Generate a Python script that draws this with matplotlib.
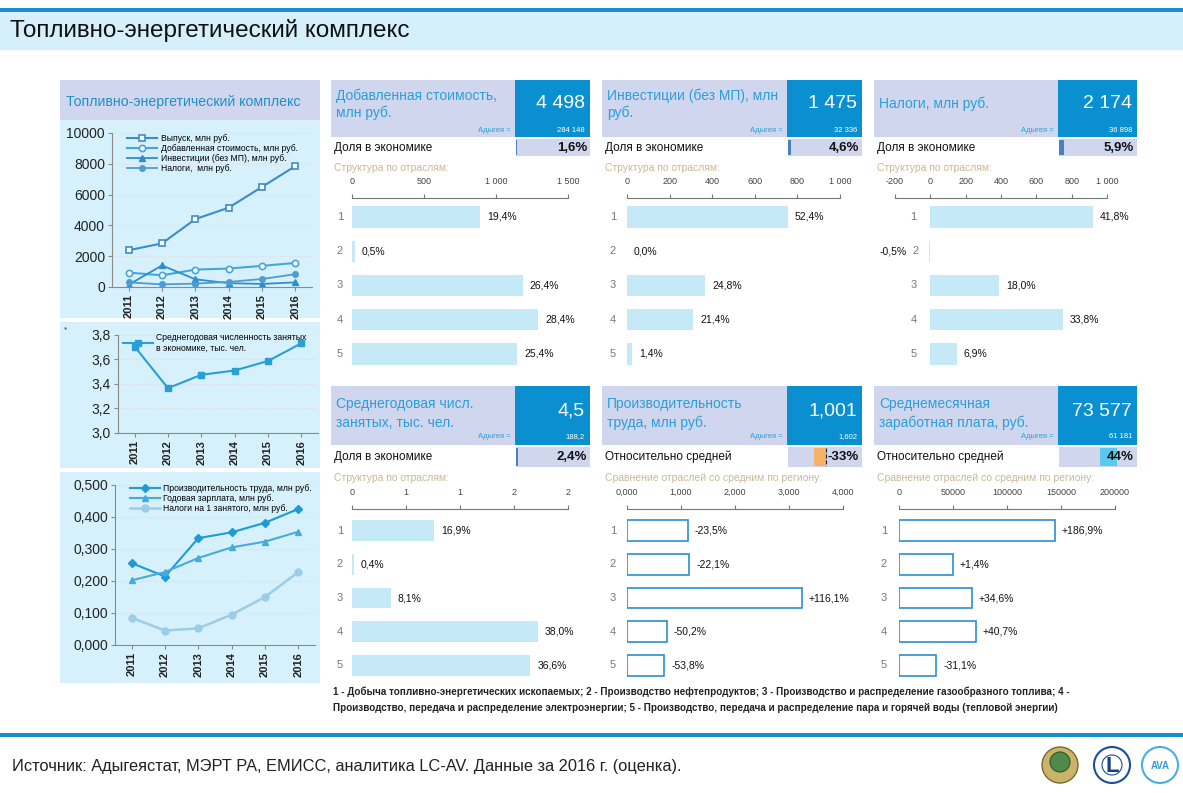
import matplotlib
matplotlib.use('Agg')
import matplotlib.pyplot as plt
from matplotlib.patches import Rectangle, Circle
from matplotlib.transforms import offset_copy

plt.rcParams['font.family'] = ['Liberation Sans', 'DejaVu Sans']

# ---------------- data ----------------
years = ['2011', '2012', '2013', '2014', '2015', '2016']
output_vals = [2390, 2830, 4410, 5150, 6500, 7850]
added_vals = [935, 760, 1130, 1200, 1370, 1565]
invest_vals = [150, 1400, 500, 250, 200, 300]
taxes_vals = [300, 170, 220, 330, 520, 830]
employment_vals = [3.705, 3.366, 3.475, 3.51, 3.588, 3.732]
productivity_vals = [0.256, 0.214, 0.334, 0.352, 0.382, 0.425]
wage_vals = [0.202, 0.228, 0.272, 0.305, 0.323, 0.354]
tax_per_emp_vals = [0.085, 0.045, 0.052, 0.095, 0.150, 0.228]

categories = ['1', '2', '3', '4', '5']
va_by_sector = [889, 21, 1187, 1292, 1146]
va_labels = ['19,4%', '0,5%', '26,4%', '28,4%', '25,4%']
inv_by_sector = [756, 0, 366, 310, 23]
inv_labels = ['52,4%', '0,0%', '24,8%', '21,4%', '1,4%']
tax_by_sector = [920, -10, 389, 749, 149]
tax_labels = ['41,8%', '-0,5%', '18,0%', '33,8%', '6,9%']
emp_by_sector = [0.76, 0.018, 0.36, 1.72, 1.65]
emp_labels = ['16,9%', '0,4%', '8,1%', '38,0%', '36,6%']
prod_by_sector = [1.13, 1.15, 3.24, 0.74, 0.69]
prod_labels = ['-23,5%', '-22,1%', '+116,1%', '-50,2%', '-53,8%']
wage_by_sector = [144400, 50000, 67600, 71300, 34300]
wage_labels = ['+186,9%', '+1,4%', '+34,6%', '+40,7%', '-31,1%']

panel_titles = ['Добавленная стоимость,\nмлн руб.', 'Инвестиции (без МП), млн\nруб.', 'Налоги, млн руб.',
                'Среднегодовая числ.\nзанятых, тыс. чел.', 'Производительность\nтруда, млн руб.',
                'Среднемесячная\nзаработная плата, руб.']
panel_values = ['4 498', '1 475', '2 174', '4,5', '1,001', '73 577']
panel_region = ['284 148', '32 336', '36 898', '188,2', '1,602', '61 181']
share_names = ['Доля в экономике', 'Доля в экономике', 'Доля в экономике',
               'Доля в экономике', 'Относительно средней', 'Относительно средней']
share_vals = [1.6, 4.6, 5.9, 2.4, -33, 44]
share_labels = ['1,6%', '4,6%', '5,9%', '2,4%', '-33%', '44%']
sub_titles = ['Структура по отраслям:', 'Структура по отраслям:', 'Структура по отраслям:',
              'Структура по отраслям:', 'Сравнение отраслей со средним по региону:',
              'Сравнение отраслей со средним по региону:']

# ---------------- figure ----------------
W, H = 1183, 793
fig = plt.figure(figsize=(W / 100, H / 100), dpi=100)
fig.patch.set_facecolor('white')
bg = fig.add_axes([0, 0, 1, 1])
bg.set_xlim(0, W)
bg.set_ylim(H, 0)
bg.axis('off')

BLUE = '#0a90d0'
LAV = '#cfd6ee'
CYAN = '#d6f1fb'
HTXT = '#2a9fd8'


def rect(x0, y0, x1, y1, color, **kw):
    bg.add_patch(Rectangle((x0, y0), x1 - x0, y1 - y0, facecolor=color, edgecolor='none', **kw))


def pax(x0, y0, x1, y1):
    return fig.add_axes([x0 / W, 1 - y1 / H, (x1 - x0) / W, (y1 - y0) / H])


# title bar
rect(0, 8, W, 11.5, '#1a8fd0')
rect(0, 11.5, W, 50, '#d5f0fb')
bg.text(10, 31, 'Топливно-энергетический комплекс', fontsize=17.5, va='center', ha='left', color='#111111')

# bottom line and source
rect(0, 733, W, 737, '#1a8fd0')
bg.text(12, 766, 'Источник: Адыгеястат, МЭРТ РА, ЕМИСС, аналитика LC-AV. Данные за 2016 г. (оценка).',
        fontsize=11.8, va='center', ha='left', color='#222222')

# logos
bg.add_patch(Circle((1060, 765), 18, facecolor='#c9b46a', edgecolor='#7a6a30', lw=1))
bg.add_patch(Circle((1060, 762), 10, facecolor='#4f8a4a', edgecolor='#2a5a2a', lw=0.8))
bg.add_patch(Circle((1112, 765), 18, facecolor='white', edgecolor='#1a4f9a', lw=1.5))
bg.add_patch(Circle((1112, 765), 10, facecolor='none', edgecolor='#1a4f9a', lw=0.8))
bg.text(1112, 766, 'L', fontsize=16, fontweight='bold', color='#1a3f8a', ha='center', va='center')
bg.add_patch(Circle((1160, 765), 18, facecolor='white', edgecolor='#4aaee0', lw=1.5))
bg.text(1160, 766, 'AVA', fontsize=7, fontweight='bold', color='#3a9ad8', ha='center', va='center')

# left panel backgrounds
rect(60, 80, 320, 120, LAV)
rect(60, 120, 320, 318, CYAN)
rect(60, 322, 320, 468, CYAN)
rect(60, 472, 320, 683, CYAN)
bg.text(66, 102, 'Топливно-энергетический комплекс', fontsize=10.2, color='#1e90c8', va='center')
bg.text(64, 330, '*', fontsize=6, color='#333333', va='center')

x_idx = list(range(len(years)))


def style_left(ax, ylim, ticks, fmt):
    ax.set_facecolor('none')
    ax.set_xlim(-0.5, 5.5)
    ax.set_ylim(*ylim)
    ax.set_yticks(ticks)
    ax.set_yticklabels([fmt(t) for t in ticks], fontsize=10, color='#222222')
    ax.set_xticks(x_idx)
    ax.set_xticklabels(years, rotation=90, fontsize=8, fontweight='bold', color='#222222')
    for s in ['top', 'right']:
        ax.spines[s].set_visible(False)
    for s in ['left', 'bottom']:
        ax.spines[s].set_color('#8a8a8a')
    ax.tick_params(axis='both', length=3, color='#8a8a8a', pad=2)
    ax.yaxis.grid(True, color='#e6d6de', linestyle=':', lw=0.8)
    ax.set_axisbelow(True)


# chart 1
ax1 = pax(112, 133, 312, 287)
style_left(ax1, (0, 10000), [0, 2000, 4000, 6000, 8000, 10000], lambda t: f'{t:d}')
ax1.plot(x_idx, output_vals, color='#3b8dc8', lw=1.5, marker='s', ms=5, mfc='white', mec='#3b8dc8', mew=1.2,
         label='Выпуск, млн руб.')
ax1.plot(x_idx, added_vals, color='#46a6dc', lw=1.5, marker='o', ms=4.5, mfc='white', mec='#46a6dc', mew=1.2,
         label='Добавленная стоимость, млн руб.')
ax1.plot(x_idx, invest_vals, color='#2b8fcf', lw=1.3, marker='^', ms=4.5, label='Инвестиции (без МП), млн руб.')
ax1.plot(x_idx, taxes_vals, color='#4e9cd2', lw=1.3, marker='o', ms=4, label='Налоги,  млн руб.')
ax1.legend(loc='upper left', bbox_to_anchor=(0.05, 1.03), frameon=False, fontsize=6.2, handlelength=3.5,
           labelspacing=0.15, borderaxespad=0.2, handletextpad=0.4)

# chart 2
ax2 = pax(118, 335, 318, 433)
style_left(ax2, (3.0, 3.8), [3.0, 3.2, 3.4, 3.6, 3.8], lambda t: f'{t:.1f}'.replace('.', ','))
ax2.plot(x_idx, employment_vals, color='#2a9fd6', lw=1.5, marker='s', ms=5,
         label='Среднегодовая численность занятых\nв экономике, тыс. чел.')
ax2.legend(loc='upper left', bbox_to_anchor=(0.0, 1.07), frameon=False, fontsize=6.2, handlelength=3.5,
           borderaxespad=0.2, handletextpad=0.3)

# chart 3
ax3 = pax(115, 485, 315, 645)
style_left(ax3, (0, 0.5), [0, 0.1, 0.2, 0.3, 0.4, 0.5], lambda t: f'{t:.3f}'.replace('.', ','))
ax3.plot(x_idx, productivity_vals, color='#1e9ad6', lw=1.5, marker='D', ms=4,
         label='Производительность труда, млн руб.')
ax3.plot(x_idx, wage_vals, color='#48aadc', lw=1.5, marker='^', ms=5, label='Годовая зарплата, млн руб.')
ax3.plot(x_idx, tax_per_emp_vals, color='#9ccde8', lw=1.8, marker='o', ms=5,
         label='Налоги на 1 занятого, млн руб.')
ax3.legend(loc='upper left', bbox_to_anchor=(0.05, 1.04), frameon=False, fontsize=6.2, handlelength=3.5,
           labelspacing=0.15, borderaxespad=0.2, handletextpad=0.3)

# ---------------- right panels ----------------
cols = [(331, 515, 590), (602, 787, 862), (874, 1058, 1137)]
rows = [dict(h0=80, h1=137, t1=96, t2=113, big=104, small=130, s0=139, s1=156, st=168, ax0=198, ax1=370,
             ylim=(5.47, 0.445)),
        dict(h0=386, h1=445, t1=404, t2=423, big=411, small=437, s0=447, s1=467, st=478, ax0=509, ax1=682,
             ylim=(5.5, 0.35))]

bar_data = [va_by_sector, inv_by_sector, tax_by_sector, emp_by_sector, prod_by_sector, wage_by_sector]
bar_labels = [va_labels, inv_labels, tax_labels, emp_labels, prod_labels, wage_labels]
bar_x = [(352, 568), (627, 840), (895, 1107), (352, 568), (627, 843), (899, 1115)]
bar_lim = [(0, 1500), (0, 1000), (-200, 1000), (0, 2), (0, 4), (0, 200000)]
bar_ticks = [[0, 500, 1000, 1500], [0, 200, 400, 600, 800, 1000], [-200, 0, 200, 400, 600, 800, 1000],
             [0, 0.5, 1.0, 1.5, 2.0], [0, 1, 2, 3, 4], [0, 50000, 100000, 150000, 200000]]


def sp(v):
    s = f'{abs(int(round(v))):,}'.replace(',', ' ')
    return ('-' if v < 0 else '') + s


bar_fmt = [sp, sp, sp, lambda v: f'{int(v + 0.5)}', lambda v: f'{v:.3f}'.replace('.', ','),
           lambda v: f'{int(v)}']
outlined = [False, False, False, False, True, True]
cat_offset = [-12, -14, -17, -12, -14, -15]

for i in range(6):
    r = rows[i // 3]
    cx0, csp, cx1 = cols[i % 3]
    rect(cx0, r['h0'], csp, r['h1'], LAV)
    rect(csp, r['h0'], cx1, r['h1'], BLUE)
    lines = panel_titles[i].split('\n')
    if len(lines) == 1:
        bg.text(cx0 + 5, r['big'], lines[0], fontsize=10, color=HTXT, va='center')
    else:
        bg.text(cx0 + 5, r['t1'], lines[0], fontsize=10, color=HTXT, va='center')
        bg.text(cx0 + 5, r['t2'], lines[1], fontsize=10, color=HTXT, va='center')
    bg.text(cx1 - 5, r['big'], panel_values[i], fontsize=14, color='white', ha='right', va='center')
    bg.text(cx1 - 5, r['small'], panel_region[i], fontsize=5.5, color='white', ha='right', va='center')
    bg.text(csp - 4, r['small'], 'Адыгея =', fontsize=5.5, color=HTXT, ha='right', va='center')
    # share row
    bg.text(cx0 + 3, (r['s0'] + r['s1']) / 2, share_names[i], fontsize=8.5, color='#111111', va='center')
    rect(csp + 1, r['s0'], cx1, r['s1'], LAV)
    bw = cx1 - csp - 1
    v = share_vals[i]
    if i < 4:
        rect(csp + 1, r['s0'] + 1, csp + 1 + max(bw * v / 100, 1.0), r['s1'] - 1, '#4a7fc0')
    else:
        zero = csp + 1 + bw * 0.52
        half = bw * 0.5
        col = '#f7b267' if v < 0 else '#5bc8ef'
        x_end = zero + half * v / 100
        rect(min(zero, x_end), r['s0'] + 1, max(zero, x_end), r['s1'] - 1, col)
        if v < 0:
            bg.plot([zero, zero], [r['s0'] + 1, r['s1'] - 1], color='#222222', lw=0.8, ls='--')
    bg.text(cx1 - 3, (r['s0'] + r['s1']) / 2 + 0.5, share_labels[i], fontsize=9.5, fontweight='bold',
            color='#111111', ha='right', va='center')
    bg.text(cx0 + 3, r['st'], sub_titles[i], fontsize=7.5, color='#c9b896', va='center')

    # bar chart
    ax = pax(bar_x[i][0], r['ax0'], bar_x[i][1], r['ax1'])
    ax.set_facecolor('none')
    ax.set_xlim(*bar_lim[i])
    ax.set_ylim(*r['ylim'])
    yy = list(range(1, 6))
    vals = bar_data[i]
    if outlined[i]:
        ax.barh(yy, vals, height=0.62, color='white', edgecolor='#2a8fd0', linewidth=1.2)
    else:
        ax.barh(yy, vals, height=0.62, color='#c6e9f8', edgecolor='none')
    for s in ['left', 'right', 'bottom']:
        ax.spines[s].set_visible(False)
    ax.spines['top'].set_color('#777777')
    ax.spines['top'].set_linewidth(0.8)
    ax.xaxis.tick_top()
    ax.set_xticks(bar_ticks[i])
    ax.set_xticklabels([bar_fmt[i](t) for t in bar_ticks[i]], fontsize=6.5, color='#444444')
    ax.tick_params(axis='x', length=3, color='#777777', pad=6)
    ax.set_yticks([])
    tr_cat = offset_copy(ax.transData, fig=fig, x=cat_offset[i], y=0, units='dots')
    for k, yv in enumerate(yy):
        if vals[k] >= 0:
            ax.text(0, yv, categories[k], transform=tr_cat, fontsize=8, color='#777777', ha='center',
                    va='center')
            tr = offset_copy(ax.transData, fig=fig, x=7, y=0, units='dots')
            ax.text(vals[k], yv, bar_labels[i][k], transform=tr, fontsize=7.5, color='#111111', ha='left',
                    va='center')
        else:
            # negative bar: category label sits to the right of the value label
            tr = offset_copy(ax.transData, fig=fig, x=-22, y=0, units='dots')
            ax.text(vals[k], yv, bar_labels[i][k], transform=tr, fontsize=7.5, color='#111111', ha='right',
                    va='center')
            tr2 = offset_copy(ax.transData, fig=fig, x=-10, y=0, units='dots')
            ax.text(vals[k], yv, categories[k], transform=tr2, fontsize=8, color='#777777', ha='right',
                    va='center')

# footnote
bg.text(333, 692, '1 - Добыча топливно-энергетических ископаемых; 2 - Производство нефтепродуктов; '
        '3 - Производство и распределение газообразного топлива; 4 -', fontsize=7.1, fontweight='bold',
        color='#222222', va='center')
bg.text(333, 708, 'Производство, передача и распределение электроэнергии; 5 - Производство, передача и '
        'распределение пара и горячей воды (тепловой энергии)', fontsize=7.1, fontweight='bold',
        color='#222222', va='center')

fig.savefig('out.png', dpi=100)
